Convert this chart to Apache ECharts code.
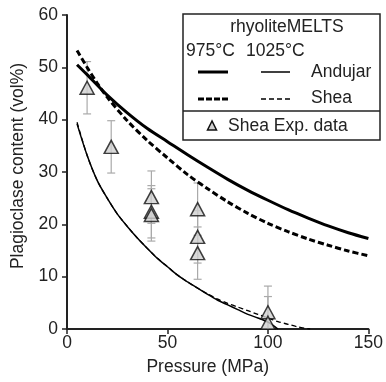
<!DOCTYPE html>
<html>
<head>
<meta charset="utf-8">
<script src="https://cdn.jsdelivr.net/npm/echarts@6/dist/echarts.min.js"></script>
<style>
  html, body { margin: 0; padding: 0; background: #fff; }
  #chart { width: 386px; height: 382px; }
</style>
</head>
<body>
<div id="chart"></div>
<script>
// curves (pressure MPa, plagioclase vol%)
var andujar975P = [5, 10, 20, 30, 40, 50, 60, 70, 80, 90, 100, 110, 120, 130, 140, 150];
var andujar975V = [50.5, 48.6, 44.7, 41.3, 38.3, 35.8, 33.3, 30.9, 28.6, 26.5, 24.6, 22.8, 21.2, 19.7, 18.4, 17.3];
var shea975P = [5, 10, 15, 20, 30, 40, 50, 60, 70, 80, 90, 100, 110, 120, 130, 140, 150];
var shea975V = [53.2, 50.0, 47.0, 44.3, 39.8, 36.0, 32.7, 29.5, 26.8, 24.3, 22.1, 20.2, 18.6, 17.2, 16.0, 14.9, 14.0];
var andujar1025P = [5, 10, 15, 20, 25, 30, 35, 40, 45, 50, 55, 60, 65, 70, 75, 80, 85, 90, 95, 100, 105];
var andujar1025V = [39.2, 33.2, 28.4, 25.0, 22.0, 19.6, 17.4, 15.4, 13.5, 11.9, 10.3, 9.0, 7.8, 6.6, 5.5, 4.6, 3.7, 2.8, 2.1, 1.3, 0];
var shea1025P = [5, 10, 15, 20, 25, 30, 35, 40, 45, 50, 55, 60, 65, 70, 75, 80, 85, 90, 95, 100, 105, 110, 115, 121];
var shea1025V = [39.5, 33.2, 28.4, 25.0, 22.0, 19.6, 17.4, 15.4, 13.5, 11.9, 10.3, 9.0, 7.8, 6.7, 5.7, 4.9, 4.2, 3.5, 2.8, 2.1, 1.4, 0.9, 0.4, 0];

// Shea experimental data with error bars
var expP = [10, 22, 42, 42, 42, 65, 65, 65, 100, 100];
var expV = [46.1, 34.8, 25.2, 22.4, 21.8, 22.9, 17.6, 14.5, 3.2, 1.2];
var expErr = [5, 5, 5, 5, 5, 5, 5, 5, 5, 5];

var xTicks = [0, 50, 100, 150];
var yTicks = [0, 10, 20, 30, 40, 50, 60];

function pairs(xs, ys) {
  return xs.map(function (x, i) { return [x, ys[i]]; });
}

var font = 'Liberation Sans, Arial, sans-serif';
var fs = 17.5;
var txt = '#222';
var myChart = echarts.init(document.getElementById('chart'));

var option = {
  animation: false,
  grid: { left: 67, right: 6, top: 15, bottom: 53 },
  xAxis: {
    type: 'value',
    min: xTicks[0],
    max: xTicks[xTicks.length - 1],
    interval: 50,
    name: 'Pressure (MPa)',
    nameLocation: 'middle',
    nameGap: 29,
    nameTextStyle: { fontFamily: font, fontSize: fs, color: txt, padding: [0, 20, 0, 0] },
    axisLine: { lineStyle: { color: '#222', width: 2 } },
    axisTick: { inside: false, length: 5, lineStyle: { color: '#222', width: 1.5 } },
    axisLabel: { fontFamily: font, fontSize: fs, color: txt, margin: 5 },
    splitLine: { show: false }
  },
  yAxis: {
    type: 'value',
    min: yTicks[0],
    max: yTicks[yTicks.length - 1],
    interval: 10,
    name: 'Plagioclase content (vol%)',
    nameLocation: 'middle',
    nameGap: 39,
    nameTextStyle: { fontFamily: font, fontSize: fs, color: txt, padding: [0, 0, 0, 12] },
    axisLine: { show: true, lineStyle: { color: '#222', width: 2 } },
    axisTick: { show: true, inside: false, length: 5, lineStyle: { color: '#222', width: 1.5 } },
    axisLabel: { fontFamily: font, fontSize: fs, color: txt, margin: 9 },
    splitLine: { show: false }
  },
  series: [
    {
      name: '975 Andujar', type: 'line', data: pairs(andujar975P, andujar975V),
      showSymbol: false, smooth: 0.3,
      lineStyle: { color: '#000', width: 3 }
    },
    {
      name: '975 Shea', type: 'line', data: pairs(shea975P, shea975V),
      showSymbol: false, smooth: 0.3,
      lineStyle: { color: '#000', width: 3, type: [6, 3] }
    },
    {
      name: '1025 Andujar', type: 'line', data: pairs(andujar1025P, andujar1025V),
      showSymbol: false, smooth: 0.3,
      lineStyle: { color: '#000', width: 1.5 }
    },
    {
      name: '1025 Shea', type: 'line', data: pairs(shea1025P, shea1025V),
      showSymbol: false, smooth: 0.3,
      lineStyle: { color: '#000', width: 1.3, type: [5, 3] }
    },
    {
      name: 'err', type: 'custom',
      data: expP.map(function (p, i) { return [p, expV[i], expErr[i]]; }),
      renderItem: function (params, api) {
        var x = api.value(0), y = api.value(1), e = api.value(2);
        var lo = Math.max(0, y - e);
        var top = api.coord([x, y + e]);
        var bot = api.coord([x, lo]);
        var cap = 4;
        var st = { stroke: '#aaa', lineWidth: 1.2 };
        var children = [
          { type: 'line', shape: { x1: top[0], y1: top[1], x2: bot[0], y2: bot[1] }, style: st },
          { type: 'line', shape: { x1: top[0] - cap, y1: top[1], x2: top[0] + cap, y2: top[1] }, style: st }
        ];
        if (lo > 0) {
          children.push({ type: 'line', shape: { x1: bot[0] - cap, y1: bot[1], x2: bot[0] + cap, y2: bot[1] }, style: st });
        }
        return { type: 'group', children: children };
      },
      z: 3
    },
    {
      name: 'Shea Exp. data', type: 'scatter', data: pairs(expP, expV),
      symbol: 'triangle', symbolSize: [14, 13],
      itemStyle: { color: '#cfcfcf', borderColor: '#111', borderWidth: 1.5 },
      z: 4
    }
  ],
  graphic: [
    { type: 'rect', shape: { x: 183, y: 14, width: 197, height: 126 }, style: { fill: '#fff', stroke: '#222', lineWidth: 1.5 }, z: 10 },
    { type: 'line', shape: { x1: 183, y1: 111, x2: 380, y2: 111 }, style: { stroke: '#222', lineWidth: 1.5 }, z: 11 },
    { type: 'text', x: 287, y: 27, style: { text: 'rhyoliteMELTS', font: fs + 'px ' + font, fill: txt, textAlign: 'center', textVerticalAlign: 'middle' }, z: 11 },
    { type: 'text', x: 186, y: 51, style: { text: '975°C', font: fs + 'px ' + font, fill: txt, textVerticalAlign: 'middle' }, z: 11 },
    { type: 'text', x: 246, y: 51, style: { text: '1025°C', font: fs + 'px ' + font, fill: txt, textVerticalAlign: 'middle' }, z: 11 },
    { type: 'line', shape: { x1: 198, y1: 72, x2: 228, y2: 72 }, style: { stroke: '#000', lineWidth: 3 }, z: 11 },
    { type: 'line', shape: { x1: 261, y1: 72, x2: 290, y2: 72 }, style: { stroke: '#000', lineWidth: 1.5 }, z: 11 },
    { type: 'text', x: 311, y: 72, style: { text: 'Andujar', font: fs + 'px ' + font, fill: txt, textVerticalAlign: 'middle' }, z: 11 },
    { type: 'line', shape: { x1: 198, y1: 99, x2: 228, y2: 99 }, style: { stroke: '#000', lineWidth: 3, lineDash: [6, 2] }, z: 11 },
    { type: 'line', shape: { x1: 261, y1: 99, x2: 290, y2: 99 }, style: { stroke: '#000', lineWidth: 1.3, lineDash: [5, 3] }, z: 11 },
    { type: 'text', x: 311, y: 98, style: { text: 'Shea', font: fs + 'px ' + font, fill: txt, textVerticalAlign: 'middle' }, z: 11 },
    { type: 'polygon', shape: { points: [[212, 121], [207.5, 130], [216.5, 130]] }, style: { fill: '#cfcfcf', stroke: '#111', lineWidth: 1.5 }, z: 11 },
    { type: 'text', x: 228, y: 126, style: { text: 'Shea Exp. data', font: fs + 'px ' + font, fill: txt, textVerticalAlign: 'middle' }, z: 11 }
  ]
};

myChart.setOption(option);
myChart.resize();
</script>
</body>
</html>
